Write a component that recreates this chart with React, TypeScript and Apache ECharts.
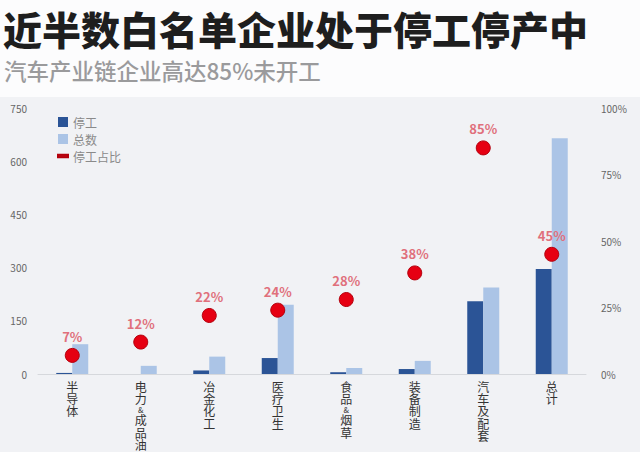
import { useEffect, useRef } from "react";
import * as echarts from "echarts";

const categories = ["半导体", "电力&成品油", "冶金化工", "医疗卫生", "食品&烟草", "装备制造", "汽车及配套", "总计"];
const stoppedCounts = [3, 0, 10, 45, 5, 14, 205, 296];
const totalCounts = [84, 23, 49, 195, 17, 37, 244, 665];
const stoppedRatio = [7, 12, 22, 24, 28, 38, 85, 45];

const TITLE = "近半数白名单企业处于停工停产中";
const SUBTITLE = "汽车产业链企业高达85%未开工";

const DARK = "#2b5496";
const LIGHT = "#abc4e6";
const RED = "#e60012";

// stack the characters vertically, "&" gets a shorter line like in the source image
function verticalLabel(v: string) {
  return v
    .split("")
    .map((ch) => (ch === "&" ? `{amp|${ch}}` : `{c|${ch}}`))
    .join("\n");
}

export default function App() {
  const ref = useRef<HTMLDivElement | null>(null);

  useEffect(() => {
    document.body.style.margin = "0";
    const el = ref.current;
    if (!el) return;
    const chart = echarts.init(el, null, { renderer: "svg" });
    const font = "'Noto Sans CJK SC', 'Noto Sans', sans-serif";

    chart.setOption({
      animation: false,
      backgroundColor: "#f1f2f5",
      textStyle: { fontFamily: font },
      graphic: [
        {
          type: "rect",
          z: -10,
          shape: { x: 0, y: 0, width: 640, height: 97 },
          style: { fill: "#fcfcfd" },
        },
      ],
      title: [
        {
          text: TITLE,
          left: -2,
          top: 3,
          textStyle: { fontSize: 39, fontWeight: 900, color: "#1e1e1e", fontFamily: font },
        },
        {
          text: SUBTITLE,
          left: -1,
          top: 54,
          textStyle: { fontSize: 22.5, fontWeight: 500, color: "#9a9a9c", fontFamily: font },
        },
      ],
      legend: {
        orient: "vertical",
        left: 52,
        top: 111,
        itemWidth: 10,
        itemHeight: 10,
        itemGap: 5,
        textStyle: { color: "#8a8a8a", fontSize: 12 },
        data: [
          { name: "停工", icon: "rect" },
          { name: "总数", icon: "rect" },
          {
            name: "停工占比",
            icon: "path://M0,0L12,0L12,3L0,3Z",
            itemStyle: { color: "#c8101e" },
          },
        ],
      },
      grid: { left: 38, right: 54, top: 108, bottom: 78, outerBoundsMode: "none" },
      xAxis: {
        type: "category",
        data: categories,
        axisLine: { lineStyle: { color: "#d6d8dc" } },
        axisTick: { show: false },
        axisLabel: {
          interval: 0,
          color: "#333",
          margin: 6,
          verticalAlign: "top",
          formatter: verticalLabel,
          rich: {
            c: { fontSize: 12, lineHeight: 12.3, color: "#333" },
            amp: { fontSize: 8, lineHeight: 9, color: "#333" },
          },
        },
      },
      yAxis: [
        {
          type: "value",
          min: 0,
          max: 750,
          interval: 150,
          splitLine: { show: false },
          axisLine: { show: false },
          axisLabel: { color: "#666", fontSize: 10, margin: 11 },
        },
        {
          type: "value",
          min: 0,
          max: 100,
          interval: 25,
          splitLine: { show: false },
          axisLine: { show: false },
          axisLabel: { color: "#666", fontSize: 10, margin: 15, formatter: "{value}%" },
        },
      ],
      series: [
        {
          name: "停工",
          type: "bar",
          data: stoppedCounts,
          barWidth: 16,
          barGap: "0%",
          itemStyle: { color: DARK },
        },
        {
          name: "总数",
          type: "bar",
          data: totalCounts,
          barWidth: 16,
          itemStyle: { color: LIGHT },
        },
        {
          name: "停工占比",
          type: "line",
          yAxisIndex: 1,
          data: stoppedRatio,
          symbol: "circle",
          symbolSize: 14,
          lineStyle: { width: 0, opacity: 0 },
          itemStyle: { color: RED, borderColor: "#b3000c", borderWidth: 1 },
          z: 5,
          label: {
            show: true,
            position: "top",
            distance: 5,
            formatter: "{c}%",
            color: "#e0707c",
            fontSize: 13,
            fontWeight: "bold",
          },
        },
      ],
    });

    return () => chart.dispose();
  }, []);

  return <div ref={ref} style={{ width: 640, height: 452 }} />;
}
